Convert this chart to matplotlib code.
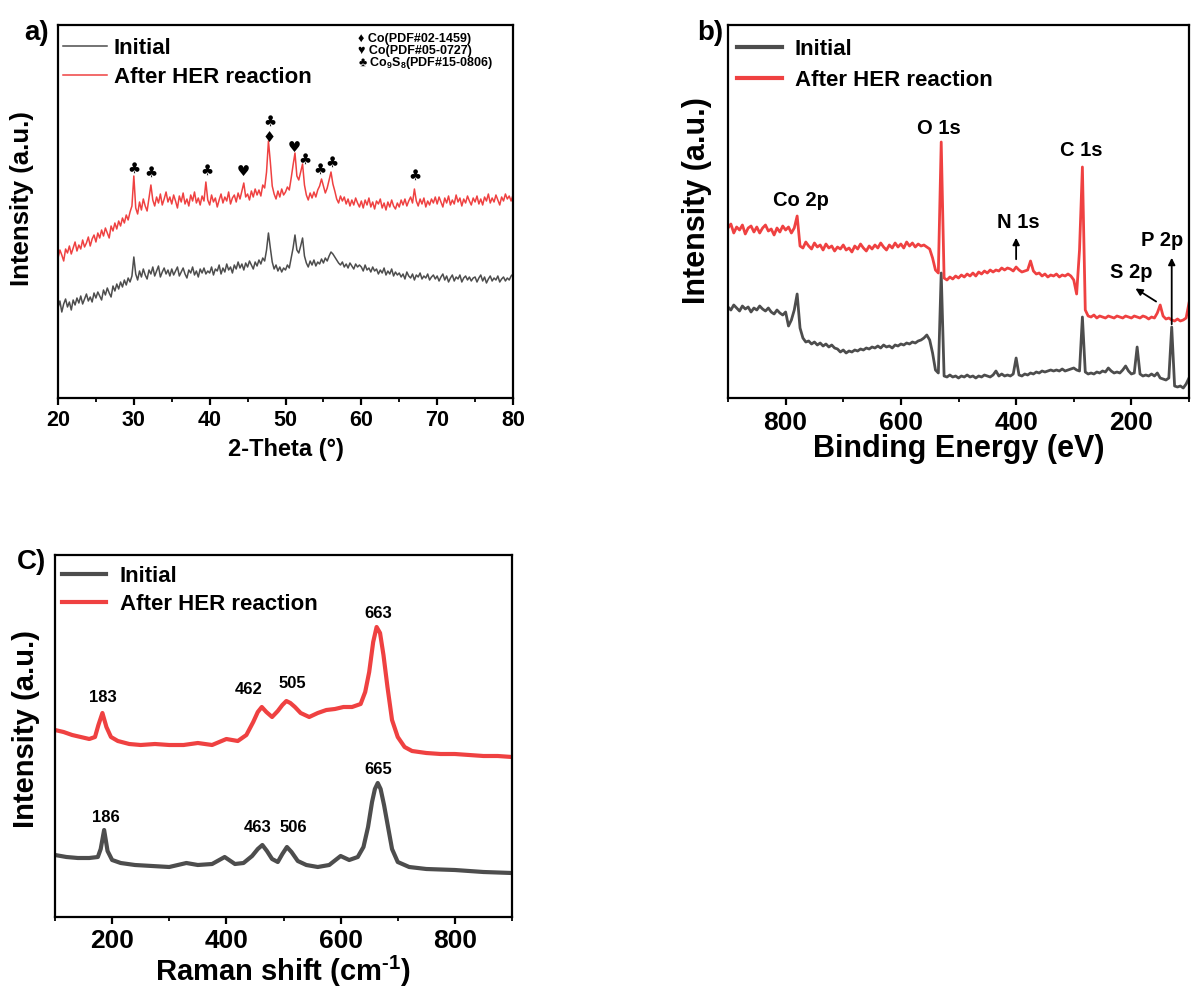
import numpy as np
import matplotlib
matplotlib.use('Agg')
from matplotlib import pyplot as plt
from matplotlib.ticker import MultipleLocator

plt.rcParams['font.family'] = ['Liberation Sans', 'DejaVu Sans']
plt.rcParams['font.weight'] = 'bold'
plt.rcParams['axes.labelweight'] = 'bold'
plt.rcParams['mathtext.fontset'] = 'custom'
plt.rcParams['mathtext.rm'] = 'Liberation Sans:bold'
plt.rcParams['mathtext.it'] = 'Liberation Sans:bold'
plt.rcParams['mathtext.bf'] = 'Liberation Sans:bold'
plt.rcParams['mathtext.default'] = 'rm'

RED = '#ef4141'
GRAY = '#4d4d4d'

# ---------------- a) XRD, 2-theta 20..80 step 0.25 ----------------
two_theta = np.arange(20, 80.01, 0.25)
xrd_after = [140, 148, 143, 137, 149, 145, 152, 144, 150, 156, 147, 153, 149, 158, 151, 155, 161, 152, 159, 163,
             156, 165, 160, 168, 162, 170, 165, 160, 172, 167, 175, 169, 177, 172, 180, 175, 183, 178, 186, 192,
             222, 190, 184, 196, 188, 199, 192, 187, 200, 213, 198, 192, 201, 195, 204, 193, 199, 206, 196, 201,
             194, 203, 197, 190, 202, 196, 205, 194, 199, 192, 203, 197, 206, 195, 200, 193, 202, 197, 216, 198,
             193, 203, 196, 200, 191, 198, 204, 195, 201, 197, 206, 194, 200, 203, 196, 205, 199, 207, 215, 201,
             204, 198, 207, 201, 209, 203, 208, 202, 213, 210, 226, 257, 236, 212, 204, 199, 207, 201, 209, 203,
             206, 211, 208, 220, 233, 245, 222, 218, 226, 234, 213, 203, 198, 205, 200, 206, 201, 208, 212, 219,
             212, 205, 210, 218, 226, 214, 207, 199, 195, 202, 197, 201, 194, 199, 192, 198, 193, 200, 195, 191,
             197, 190, 198, 193, 200, 191, 196, 189, 197, 194, 199, 190, 195, 188, 196, 191, 198, 192, 189, 195,
             191, 198, 193, 199, 192, 197, 201, 195, 209, 197, 192, 199, 194, 200, 191, 197, 193, 199, 195, 201,
             194, 201, 196, 191, 200, 195, 202, 193, 198, 194, 203, 196, 200, 192, 199, 195, 202, 197, 193, 200,
             196, 202, 194, 199, 193, 201, 197, 204, 195, 200, 196, 203, 198, 193, 201, 197, 204, 199, 202, 197,
             203]
xrd_initial = [90, 97, 86, 94, 99, 91, 96, 88, 98, 93, 100, 95, 102, 94, 99, 104, 97, 101, 96, 105,
               100, 106, 102, 98, 108, 103, 110, 105, 101, 112, 107, 114, 109, 116, 111, 118, 113, 120, 116, 122,
               141, 124, 118, 127, 121, 129, 123, 119, 128, 124, 131, 122, 127, 132, 121, 126, 130, 124, 128, 122,
               129, 123, 127, 131, 122, 126, 130, 124, 120, 128, 125, 131, 123, 127, 121, 129, 125, 130, 124, 127,
               125, 131, 123, 129, 127, 133, 124, 130, 126, 134, 128, 131, 125, 133, 129, 136, 130, 134, 128, 135,
               131, 137, 133, 129, 136, 132, 138, 134, 140, 137, 148, 165, 150, 136, 129, 133, 127, 131, 126, 130,
               128, 133, 130, 140, 150, 163, 148, 145, 152, 160, 142, 135, 131, 137, 133, 138, 132, 136, 134, 139,
               135, 140, 137, 142, 146, 144, 141, 138, 135, 133, 136, 131, 134, 130, 135, 132, 129, 134, 131, 133,
               131, 127, 133, 128, 130, 126, 131, 127, 129, 124, 128, 125, 130, 123, 127, 124, 129, 122, 126, 123,
               125, 121, 124, 119, 126, 122, 120, 124, 118, 123, 121, 125, 119, 122, 120, 124, 118, 121, 123, 119,
               122, 117, 121, 124, 118, 122, 116, 120, 123, 117, 121, 119, 123, 116, 120, 122, 118, 121, 117, 120,
               121, 116, 120, 123, 117, 121, 115, 119, 122, 117, 120, 118, 122, 116, 119, 121, 117, 120, 118, 122,
               124]
mark_theta = [30.0, 32.3, 39.6, 44.4, 47.9, 47.9, 51.2, 52.5, 54.5, 56.1, 67.1]
mark_height = [230, 226, 228, 226, 261, 277, 251, 239, 229, 236, 223]
mark_symbol = ['♣', '♣', '♣', '♥', '♦', '♣', '♥', '♣', '♣', '♣', '♣']
phase_labels = ['♦ Co(PDF#02-1459)', '♥ Co(PDF#05-0727)',
                r'♣ Co$_{9}$S$_{8}$(PDF#15-0806)']

# ---------------- b) XPS survey, BE 900..100 step 5 ----------------
binding = np.arange(900, 99, -5)
xps_after = [170, 174, 165, 171, 168, 173, 164, 170, 172, 166,
             171, 165, 170, 173, 167, 169, 163, 170, 166, 172,
             168, 171, 165, 170, 182, 152, 150, 156, 152, 149,
             155, 151, 153, 148, 154, 150, 152, 147, 151, 149,
             153, 148, 150, 146, 152, 149, 154, 150, 147, 152,
             149, 153, 150, 155, 151, 148, 153, 150, 155, 151,
             154, 150, 156, 152, 155, 151, 154, 152, 153, 151,
             149, 140, 128, 125, 256, 120, 118, 121, 119, 122,
             120, 123, 121, 124, 122, 125, 122, 126, 124, 127,
             125, 128, 126, 128, 127, 130, 128, 130, 129, 127,
             131, 128, 126, 127, 128, 137, 127, 124, 125, 122,
             124, 121, 123, 122, 124, 121, 123, 122, 124, 122,
             118, 104, 148, 231, 88, 82, 81, 83, 80, 82,
             81, 80, 82, 81, 80, 82, 81, 80, 82, 81,
             80, 82, 81, 80, 82, 81, 79, 81, 80, 85,
             93, 82, 79, 80, 78, 77, 79, 77, 78, 80,
             95]
xps_initial = [91, 88, 93, 90, 87, 92, 89, 91, 86, 90,
               88, 92, 89, 87, 90, 86, 84, 88, 85, 83,
               86, 72, 78, 88, 104, 70, 60, 56, 57, 54,
               56, 53, 55, 52, 54, 51, 53, 50, 49, 46,
               48, 45, 47, 46, 48, 47, 49, 48, 50, 49,
               51, 50, 52, 50, 53, 51, 52, 50, 53, 52,
               54, 53, 55, 54, 56, 55, 57, 58, 60, 63,
               58, 45, 28, 25, 125, 22, 21, 23, 21, 22,
               20, 22, 21, 23, 21, 22, 20, 22, 21, 23,
               22, 21, 23, 27, 22, 24, 22, 23, 22, 24,
               40, 23, 22, 24, 23, 25, 24, 26, 25, 27,
               26, 27, 28, 27, 28, 27, 29, 27, 28, 29,
               30, 28, 27, 81, 26, 24, 25, 24, 26, 25,
               27, 26, 30, 27, 25, 26, 25, 28, 32, 27,
               24, 25, 51, 24, 22, 23, 22, 24, 22, 25,
               20, 19, 18, 20, 71, 12, 11, 12, 10, 14,
               20]
xps_labels = ['Co 2p', 'O 1s', 'N 1s', 'C 1s', 'S 2p', 'P 2p']
xps_label_be = [774, 534, 397, 287, 200, 147]
xps_label_h = [198, 269, 175, 248, 126, 157]

# ---------------- c) Raman ----------------
raman_after_x = [100, 115, 130, 145, 160, 170, 176, 183, 190, 198, 210, 230, 250, 275,
                 300, 325, 350, 375, 400, 420, 435, 447, 455, 462, 470, 480, 490, 498,
                 505, 512, 520, 530, 545, 560, 575, 590, 605, 620, 635, 643, 650, 657,
                 663, 669, 675, 682, 690, 700, 712, 725, 750, 775, 800, 825, 850, 875, 900]
raman_after = [187, 185, 182, 180, 178, 180, 192, 204, 190, 180, 176, 173, 172, 173,
               172, 172, 174, 172, 178, 176, 182, 195, 205, 210, 205, 200, 206, 212,
               216, 214, 210, 204, 200, 204, 207, 208, 210, 210, 213, 225, 245, 275,
               290, 284, 262, 230, 197, 180, 170, 166, 164, 163, 163, 162, 161, 161, 160]
raman_init_x = [100, 120, 140, 160, 175, 180, 186, 192, 200, 215, 240, 270, 300, 330,
                350, 375, 397, 415, 430, 445, 455, 463, 471, 480, 490, 498, 506, 514,
                525, 540, 560, 580, 600, 615, 630, 640, 648, 655, 660, 665, 670, 676,
                683, 690, 700, 720, 750, 800, 850, 900]
raman_init = [62, 60, 59, 59, 60, 68, 87, 66, 57, 54, 52, 51, 50, 54,
              52, 53, 60, 53, 54, 61, 68, 72, 66, 58, 55, 63, 70, 65,
              56, 52, 50, 52, 61, 57, 60, 70, 90, 115, 128, 134, 128, 112,
              90, 68, 55, 50, 48, 47, 45, 44]
raman_labels = ['183', '462', '505', '663', '186', '463', '506', '665']
raman_label_x = [184, 439, 516, 665, 189, 454, 518, 665]
raman_label_h = [219, 227, 233, 303, 100, 89, 89, 148]


def style(ax, major, minor, fs):
    for s in ax.spines.values():
        s.set_linewidth(1.6)
    ax.set_yticks([])
    ax.xaxis.set_major_locator(MultipleLocator(major))
    ax.xaxis.set_minor_locator(MultipleLocator(minor))
    ax.tick_params(axis='x', which='major', direction='out', length=5, width=1.6,
                   labelsize=fs, pad=4, top=False)
    ax.tick_params(axis='x', which='minor', direction='out', length=3, width=1.3, top=False)


fig = plt.figure(figsize=(11.92, 9.91), dpi=100)
W, H = 1192, 991
ax_a = fig.add_axes([58 / W, 1 - 398 / H, 455 / W, 373 / H])
ax_b = fig.add_axes([728 / W, 1 - 398 / H, 461 / W, 373 / H])
ax_c = fig.add_axes([55 / W, 1 - 917 / H, 457 / W, 362 / H])

# a)
ax_a.plot(two_theta, xrd_initial, color=GRAY, lw=1.1, label='Initial')
ax_a.plot(two_theta, xrd_after, color=RED, lw=1.1, label='After HER reaction')
ax_a.set_xlim(20, 80)
ax_a.set_ylim(0, 373)
style(ax_a, 10, 5, 15.5)
ax_a.set_xlabel('2-Theta (°)', fontsize=17, labelpad=5)
ax_a.set_ylabel('Intensity (a.u.)', fontsize=18.5)
ax_a.yaxis.set_label_coords(-0.052, 0.535)
for t, h, s in zip(mark_theta, mark_height, mark_symbol):
    ax_a.text(t, h, s, fontsize=10.5, ha='center', va='center', family=['DejaVu Sans'])
for i, lab in enumerate(phase_labels):
    ax_a.text(0.659, 0.962 - i * 0.032, lab, fontsize=9, ha='left', va='center',
              transform=ax_a.transAxes)
ax_a.legend(loc='upper left', bbox_to_anchor=(0.01, 0.965), frameon=False, fontsize=16,
            handlelength=2.0, handletextpad=0.3, labelspacing=0.35, borderpad=0,
            borderaxespad=0)

# b)
ax_b.plot(binding, xps_initial, color=GRAY, lw=2.0, label='Initial')
ax_b.plot(binding, xps_after, color=RED, lw=2.0, label='After HER reaction')
ax_b.set_xlim(900, 100)
ax_b.set_ylim(0, 373)
style(ax_b, 200, 100, 19)
ax_b.set_xlabel('Binding Energy (eV)', fontsize=22, labelpad=0)
ax_b.set_ylabel('Intensity (a.u.)', fontsize=22)
ax_b.yaxis.set_label_coords(-0.035, 0.53)
for lab, be, h in zip(xps_labels, xps_label_be, xps_label_h):
    ax_b.text(be, h, lab, fontsize=14.5, ha='center', va='center')
arrow = dict(arrowstyle='-|>', color='black', lw=1.3, mutation_scale=10)
ax_b.annotate('', xy=(400, 163), xytext=(400, 136), arrowprops=arrow)
ax_b.annotate('', xy=(130, 143), xytext=(130, 71), arrowprops=arrow)
ax_b.annotate('', xy=(197, 111), xytext=(153, 95), arrowprops=arrow)
leg = ax_b.legend(loc='upper left', bbox_to_anchor=(0.02, 0.962), frameon=False, fontsize=16,
                  handlelength=2.0, handletextpad=0.6, labelspacing=0.45, borderpad=0,
                  borderaxespad=0)
for line in leg.get_lines():
    line.set_linewidth(3.0)

# c)
ax_c.plot(raman_init_x, raman_init, color=GRAY, lw=3.0, label='Initial')
ax_c.plot(raman_after_x, raman_after, color=RED, lw=3.0, label='After HER reaction')
ax_c.set_xlim(100, 900)
ax_c.set_ylim(0, 362)
style(ax_c, 200, 100, 19)
ax_c.set_xlabel('Raman shift (cm$^{\u20101}$)', fontsize=21, labelpad=0)
ax_c.set_ylabel('Intensity (a.u.)', fontsize=21)
ax_c.yaxis.set_label_coords(-0.033, 0.52)
for lab, x, h in zip(raman_labels, raman_label_x, raman_label_h):
    ax_c.text(x, h, lab, fontsize=12, ha='center', va='center')
ax_c.legend(loc='upper left', bbox_to_anchor=(0.015, 0.97), frameon=False, fontsize=16,
            handlelength=2.0, handletextpad=0.6, labelspacing=0.3, borderpad=0,
            borderaxespad=0)

fig.text(37 / W, 1 - 33 / H, 'a)', fontsize=20, ha='center', va='center')
fig.text(710 / W, 1 - 33 / H, 'b)', fontsize=20, ha='center', va='center')
fig.text(32 / W, 1 - 562 / H, 'C)', fontsize=20, ha='center', va='center')

fig.savefig('out.png', dpi=100)
